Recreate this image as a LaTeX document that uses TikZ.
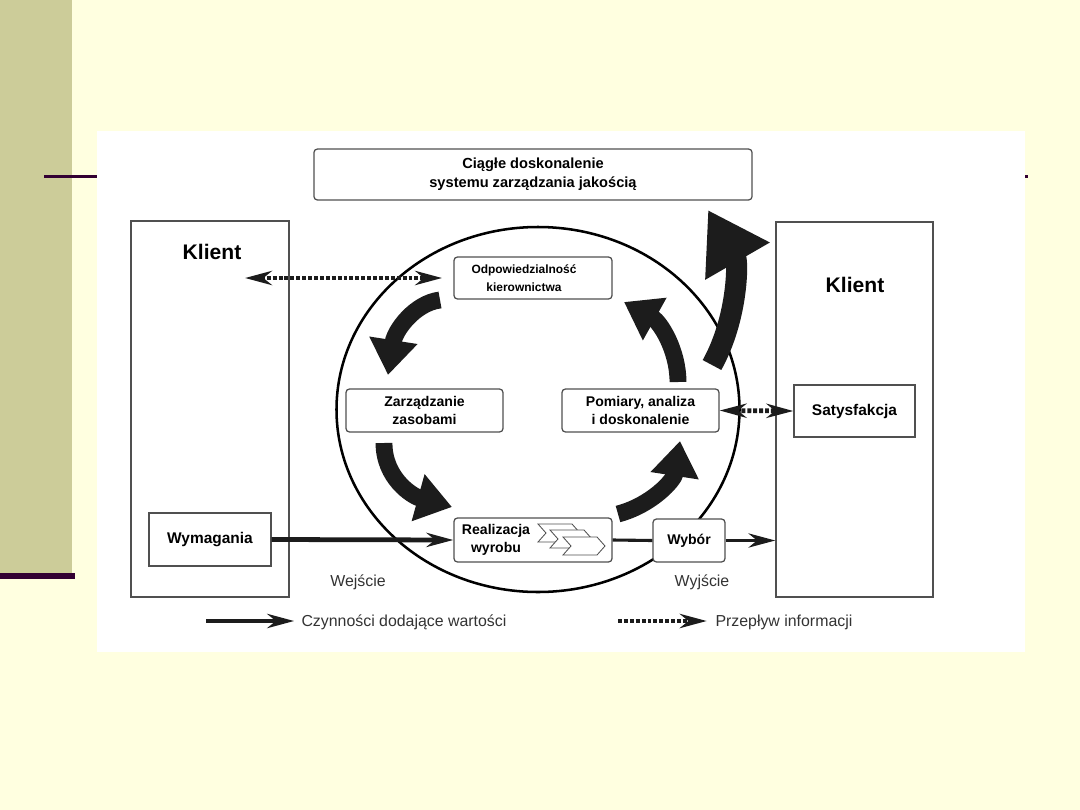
\documentclass[tikz,border=0pt]{standalone}
\usepackage{fontspec}
\setmainfont{Liberation Sans}
\usetikzlibrary{arrows.meta}
\definecolor{BgClr}{HTML}{FFFFE0}
\definecolor{BarClr}{HTML}{CCCC99}
\definecolor{RuleClr}{HTML}{330033}
\definecolor{BoxClr}{HTML}{505050}
\definecolor{FlowClr}{HTML}{1C1C1C}

\tikzset{
  >={Stealth[length=19pt,width=10pt,inset=6pt]},
  box/.style={draw=BoxClr, line width=0.9pt, fill=white, align=center, inner sep=0pt,
    font=\bfseries\fontsize{10}{12.8}\selectfont},
  rbox/.style={box, rounded corners=2.5pt},
  bigflow/.style={FlowClr, line width=12pt, -{Triangle[length=25pt,width=33pt]}},
  valarrow/.style={FlowClr, line width=3.4pt},
  infoarrow/.style={FlowClr, line width=3.4pt, dash pattern=on 2.8pt off 1.4pt},
  note/.style={font=\fontsize{11.3}{13}\selectfont, text=black!80, inner sep=3pt}
}

\begin{document}
\begin{tikzpicture}[x=0.025cm,y=-0.025cm]
% slide background
\fill[BgClr] (0,0) rectangle (1080,810);
\fill[BarClr] (0,0) rectangle (72,573);
\fill[RuleClr] (0,573) rectangle (75,579);
\fill[RuleClr] (44,175) rectangle (97,178);
\fill[RuleClr] (1025,175) rectangle (1028,178);
\fill[white] (97,131) rectangle (1025,652);

% customer boxes and the process circle
\node[box, minimum width=3.95cm, minimum height=9.4cm] (klL) at (210,409) {};
\node[box, minimum width=3.925cm, minimum height=9.375cm] (klR) at (854.5,409.5) {};
\node[font=\bfseries\fontsize{15}{17}\selectfont] (klLtxt) at (212,252) {Klient};
\node[font=\bfseries\fontsize{15}{17}\selectfont] (klRtxt) at (855,285) {Klient};
\draw[line width=1.8pt] (538,409.5) ellipse [x radius=201.5, y radius=182.5];

\node[rbox, font=\bfseries\fontsize{10.4}{13.5}\selectfont, minimum width=10.95cm, minimum height=1.275cm]
  (ciag) at (533,174.5) {Ciągłe doskonalenie\\systemu zarządzania jakością};
\node[rbox, minimum width=3.95cm, minimum height=1.05cm] (odp) at (533,278) {};
\node[font=\bfseries\fontsize{8.5}{13}\selectfont, align=center] (odptxt) at (524,278) {Odpowiedzialność\\kierownictwa};
\node[rbox, minimum width=3.925cm, minimum height=1.075cm] (zarz) at (424.5,410.5) {Zarządzanie\\zasobami};
\node[rbox, minimum width=3.925cm, minimum height=1.075cm] (pom) at (640.5,410.5) {Pomiary, analiza\\i doskonalenie};
\node[rbox, minimum width=3.95cm, minimum height=1.1cm] (real) at (533,540) {};
\node[font=\bfseries\fontsize{10}{12.6}\selectfont, align=center] (realtxt) at (496,540) {Realizacja\\wyrobu};
\node[rbox, minimum width=1.8cm, minimum height=1.075cm] (wyb) at (689,540.5) {Wybór};
\node[box, font=\bfseries\fontsize{11}{13}\selectfont, minimum width=3.05cm, minimum height=1.325cm]
  (wym) at (210,539.5) {Wymagania};
\node[box, font=\bfseries\fontsize{11}{13}\selectfont, minimum width=3.025cm, minimum height=1.3cm]
  (sat) at (854.5,411) {Satysfakcja};

% chevrons in the product box
\foreach \dx/\dy in {0/0,12/6,25/13}
  \draw[BoxClr, line width=0.6pt, fill=white] (538+\dx,524+\dy) -- ++(34,0) -- ++(8,9) -- ++(-8,9)
    -- ++(-34,0) -- ++(8,-9) -- cycle;

% value adding flow
\draw[valarrow,->] (wym.east) -- (real.west);
\draw[valarrow, line width=2.2pt] (real.east) -- (wyb.west);
\draw[valarrow, line width=2.8pt,->] (wyb.east) -- (wyb.east -| klR.west);

% information flow
\coordinate (kin) at (245,278);
\draw[infoarrow,<->, shorten >=8pt] (kin) -- (odp.west);
\draw[infoarrow,<->] (pom.east) -- (sat.west);

% improvement loop
\foreach \n/\x/\y in {a1s/440/300,a1e/388/375,a2s/384/443,a2e/452/507,
    a3s/618/514,a3e/680/441,a4s/678/382,a4e/624/302,a5s/712/365,a5e/708/210}
  \coordinate (\n) at (\x,\y);
\draw[bigflow] (a1s) .. controls (415,303) and (395,330) .. (a1e);
\draw[bigflow] (a2s) .. controls (384,478) and (412,496) .. (a2e);
\draw[bigflow] (a3s) .. controls (652,505) and (674,480) .. (a3e);
\draw[bigflow] (a4s) .. controls (678,350) and (660,322) .. (a4e);
\draw[bigflow, line width=15pt, -{Triangle[length=42pt,width=50pt]}]
  (a5s) .. controls (738,318) and (738,262) .. (a5e);

% input, output and legend
\node[note] (wej) at (358,582) {Wejście};
\node[note] (wyj) at (702,582) {Wyjście};
\coordinate (lgA) at (206,621);
\node[note, anchor=west] (lgAtxt) at (297,622) {Czynności dodające wartości};
\draw[valarrow,->, shorten >=2pt] (lgA) -- (lgA -| lgAtxt.west);
\coordinate (lgB) at (618,621);
\node[note, anchor=west] (lgBtxt) at (711,622) {Przepływ informacji};
\draw[infoarrow,->, shorten >=3pt] (lgB) -- (lgB -| lgBtxt.west);
\end{tikzpicture}
\end{document}
